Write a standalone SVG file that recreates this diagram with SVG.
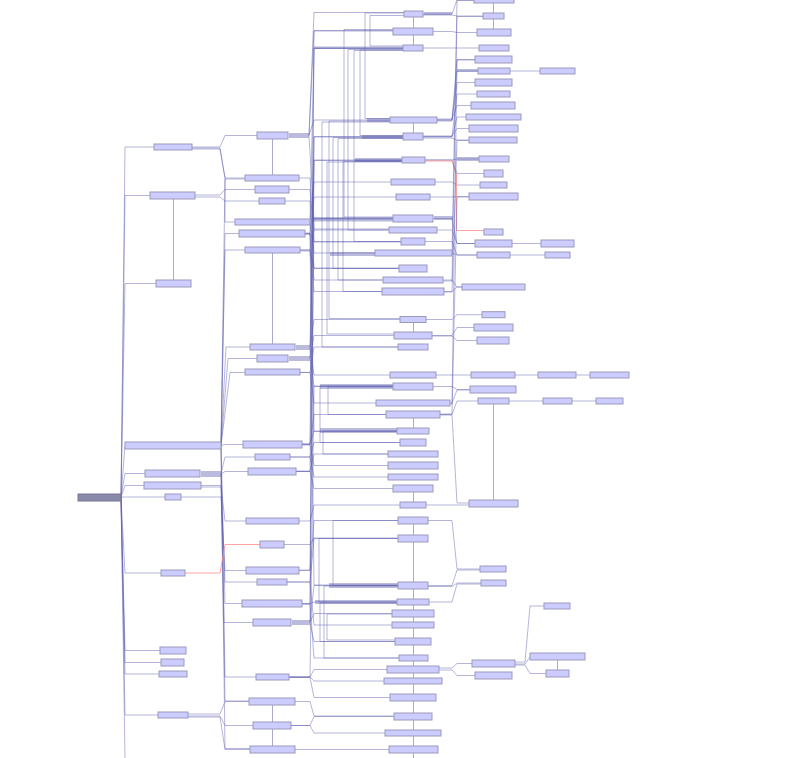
<svg xmlns="http://www.w3.org/2000/svg" width="785" height="758" viewBox="0 0 785 758">
<style>
.n rect{fill:#ccccff;stroke:#9a9abb;stroke-width:1}
.root rect{fill:#8a8aaa;stroke:#77779a;stroke-width:1}
.e path{fill:none;stroke:#5a5ab0;stroke-opacity:.45;stroke-width:1}
.e path.r{stroke:#ff8c8c;stroke-opacity:.8}
.v line{stroke:#aaaacc;stroke-width:1}
.b rect{fill:#bbbbdd}
</style>
<rect width="785" height="758" fill="#ffffff"/>
<g class="b">
<rect x="201" y="471" width="20" height="6"/><rect x="289" y="133" width="20" height="5"/>
<rect x="296" y="345" width="14" height="5"/><rect x="289" y="356" width="21" height="5"/>
<rect x="292" y="620" width="18" height="5"/><rect x="424" y="12" width="28" height="3"/>
<rect x="314" y="46.5" width="89" height="2.5"/><rect x="367" y="118" width="23" height="4"/>
<rect x="362" y="135" width="41" height="4"/><rect x="355" y="158" width="47" height="4"/>
<rect x="313" y="217" width="80" height="4.5"/><rect x="434" y="216" width="19" height="4"/>
<rect x="330" y="252" width="45" height="4"/><rect x="320" y="384" width="73" height="5"/>
<rect x="320" y="428" width="77" height="5"/><rect x="329" y="583" width="69" height="5"/>
<rect x="315" y="600" width="82" height="4"/><rect x="457" y="69" width="21" height="3"/>
<rect x="457" y="157" width="22" height="4"/>
</g>
<g class="v">
<line x1="173.5" y1="199" x2="173.5" y2="280"/>
<line x1="272.5" y1="139" x2="272.5" y2="175"/><line x1="272.5" y1="253" x2="272.5" y2="344"/><line x1="272.5" y1="705" x2="272.5" y2="746"/>
<line x1="413.5" y1="17" x2="413.5" y2="45"/><line x1="413.5" y1="123" x2="413.5" y2="133"/><line x1="413.5" y1="323" x2="413.5" y2="332"/>
<line x1="413.5" y1="418" x2="413.5" y2="428"/><line x1="413.5" y1="492" x2="413.5" y2="502"/><line x1="413.5" y1="524" x2="413.5" y2="758"/>
<line x1="493.5" y1="3" x2="493.5" y2="29"/><line x1="493.5" y1="404" x2="493.5" y2="500"/>
<line x1="557.5" y1="660" x2="557.5" y2="670"/>
</g>
<g class="e" id="connectors">
<path d="M121,497 L125,147 L154,147"/><path d="M121,497 L125,195.5 L150,195.5"/><path d="M121,497 L125,283.5 L156,283.5"/>
<path d="M121,497 L125,445.5"/><path d="M121,497 L125,473.5 L145,473.5"/><path d="M121,497 L125,485.5 L144,485.5"/>
<path d="M121,497 L165,497"/><path d="M121,497 L125,573 L161,573"/><path d="M121,497 L125,650.5 L160,650.5"/>
<path d="M121,497 L125,662.5 L161,662.5"/><path d="M121,497 L125,674 L159,674"/><path d="M121,497 L125,715 L158,715"/>
<path d="M121,497 L125,758"/>
<path d="M192,147 L220,147 L225,135.5 L257,135.5"/><path d="M192,149 L220,149 L225,178 L245,178"/>
<path d="M192,148 L220,148 L225,178 L225,222 L235,222"/>
<path d="M195,195 L220,195 L225,189.5 L255,189.5"/><path d="M195,197 L220,197 L225,201 L259,201"/>
<path d="M221,445.5 L225,233.5 L239,233.5"/><path d="M221,445.5 L225,250 L245,250"/>
<path d="M221,445.5 L226,347 L250,347"/><path d="M221,445.5 L228,358.5 L257,358.5"/>
<path d="M221,445.5 L230,372.5 L245,372.5"/><path d="M221,445.5 L225,444.5 L243,444.5"/>
<path d="M221,473.5 L225,457 L255,457"/><path d="M221,474 L225,471.5 L248,471.5"/>
<path d="M201,485.5 L221,485.5 L225,521 L246,521"/><path d="M181,497 L221,497 L225,570.5 L246,570.5"/>
<path d="M201,487 L221,487 L225,582 L257,582"/><path d="M221,446 L225,603.5 L242,603.5"/>
<path d="M221,474 L224,622.5 L253,622.5"/><path d="M221,446 L225,677 L256,677"/>
<path d="M221,446 L225,179 L245,179"/><path d="M221,446 L225,748.5 L250,748.5"/>
<path d="M221,474 L225,701 L249,701"/>
<path class="r" d="M185,573 L220,573 L225,544.5 L260,544.5"/>
<path d="M188,714 L220,714 L225,701.5 L249,701.5"/><path d="M188,716 L220,716 L225,725.5 L253,725.5"/>
<path d="M188,717 L220,717 L225,749.5 L250,749.5"/>
<path d="M309,135.5 L314,12.5 L404,12.5"/><path d="M309,136 L314,30.5 L393,30.5"/>
<path d="M310,222 L314,48 L403,48"/><path d="M309,135 L314,120 L390,120"/>
<path d="M310,347 L314,136.5 L403,136.5"/><path d="M310,358.5 L314,160 L402,160"/>
<path d="M310,222 L314,182 L391,182"/><path d="M305,233.5 L310,233.5 L314,197 L396,197"/>
<path d="M309,136.5 L314,218.5 L393,218.5"/><path d="M300,250 L310,250 L314,230 L389,230"/>
<path d="M305,234 L310,234 L314,241.5 L401,241.5"/><path d="M310,222 L314,253 L375,253"/>
<path d="M300,250 L310,250 L314,268.5 L399,268.5"/><path d="M305,233 L310,233 L314,280 L383,280"/>
<path d="M300,251 L310,251 L314,291.5 L382,291.5"/><path d="M310,347 L314,319.5 L400,319.5"/>
<path d="M310,358.5 L314,335.5 L394,335.5"/><path d="M300,372.5 L310,372.5 L314,347 L398,347"/>
<path d="M310,347.5 L314,375 L390,375"/><path d="M310,359 L314,386.5 L393,386.5"/>
<path d="M300,372.5 L310,372.5 L314,403 L376,403"/><path d="M302,444.5 L310,444.5 L314,414.5 L386,414.5"/>
<path d="M302,444 L310,444 L314,431 L397,431"/><path d="M290,457 L310,457 L314,442.5 L400,442.5"/>
<path d="M296,471.5 L310,471.5 L314,454 L388,454"/><path d="M302,445 L310,445 L314,465.5 L388,465.5"/>
<path d="M290,457 L310,457 L314,477 L388,477"/><path d="M296,471.5 L310,471.5 L314,488.5 L393,488.5"/>
<path d="M299,521 L310,521 L314,505 L400,505"/><path d="M299,570.5 L310,570.5 L314,520.5 L398,520.5"/>
<path d="M287,582 L310,582 L314,538.5 L398,538.5"/><path d="M310,622.5 L314,585.5 L398,585.5"/>
<path d="M302,603.5 L310,603.5 L314,602 L397,602"/><path d="M310,622.5 L314,613.5 L392,613.5"/>
<path d="M287,582 L310,582 L314,625 L392,625"/><path d="M310,623 L314,641.5 L395,641.5"/>
<path d="M302,604 L310,604 L314,658 L399,658"/><path d="M289,677 L310,677 L314,669.5 L387,669.5"/>
<path d="M289,677 L310,677 L314,681 L384,681"/><path d="M289,677.5 L310,677.5 L314,697.5 L390,697.5"/>
<path d="M291,725.5 L310,725.5 L314,716.5 L394,716.5"/><path d="M291,725.5 L310,725.5 L314,733 L385,733"/>
<path d="M295,749.5 L389,749.5"/>
<path d="M299,178 L310,178 L314,229 L389,229"/><path d="M289,189.5 L310,189.5 L314,242 L401,242"/>
<path d="M285,201 L310,201 L314,268 L399,268"/><path d="M284,544.5 L310,544.5 L314,538 L398,538"/>
<path d="M295,701.5 L310,701.5 L314,716 L394,716"/>
<path d="M302,444 L310,444 L314,48.5 L403,48.5"/><path d="M296,471 L310,471 L314,31 L393,31"/>
<path d="M310,622 L314,137 L403,137"/><path d="M299,570 L310,570 L314,160.5 L402,160.5"/>
<path d="M302,604 L310,604 L314,219 L393,219"/><path d="M289,677 L310,677 L314,386 L393,386"/>
<path d="M305,234 L310,234 L314,585 L398,585"/><path d="M310,222 L314,431.5 L397,431.5"/>
<path d="M404,13 L365,13 L365,118.5 L390,118.5"/><path d="M404,15.5 L370,15.5 L370,46 L403,46"/>
<path d="M393,29.5 L344,29.5 L344,217 L393,217"/><path d="M403,50 L360,50 L360,135.5 L403,135.5"/>
<path d="M403,50.5 L354,50.5 L354,160 L402,160"/><path d="M403,49.5 L348,49.5 L348,230 L389,230"/>
<path d="M402,161 L354,161 L354,241.5 L401,241.5"/><path d="M390,121 L329,121 L329,318.5 L400,318.5"/>
<path d="M403,137.5 L333,137.5 L333,268.5 L399,268.5"/><path d="M403,138.5 L338,138.5 L338,280 L383,280"/>
<path d="M402,161.5 L343,161.5 L343,291.5 L382,291.5"/><path d="M402,162 L327,162 L327,334 L394,334"/>
<path d="M390,122 L322,122 L322,347 L398,347"/><path d="M393,386 L320,386 L320,442.5 L400,442.5"/>
<path d="M393,387 L328,387 L328,414.5 L386,414.5"/><path d="M397,431 L323,431 L323,454 L388,454"/>
<path d="M398,520.5 L333,520.5 L333,585.5 L398,585.5"/><path d="M398,538.5 L319,538.5 L319,602 L397,602"/>
<path d="M397,603 L320,603 L320,641.5 L395,641.5"/><path d="M398,586 L324,586 L324,658 L399,658"/>
<path d="M392,614 L327,614 L327,640 L395,640"/>
<path d="M423,14 L452,14 L457,0 L474,0"/><path d="M423,15 L452,15 L457,16 L483,16"/>
<path d="M433,31.5 L452,31.5 L457,32.5 L477,32.5"/><path d="M423,48 L452,48 L457,48 L479,48"/>
<path d="M437,120 L452,120 L457,59.5 L475,59.5"/><path d="M437,120 L452,120 L457,71 L478,71"/>
<path d="M437,121 L452,121 L457,82.5 L475,82.5"/><path d="M423,136.5 L452,136.5 L457,94 L477,94"/>
<path d="M437,119 L452,119 L457,105.5 L471,105.5"/><path d="M423,137 L452,137 L457,117 L466,117"/>
<path d="M423,136 L452,136 L457,128.5 L469,128.5"/><path d="M423,138 L452,138 L457,140 L469,140"/>
<path d="M425,160 L452,160 L457,159 L479,159"/><path d="M425,160 L452,160 L457,173.5 L484,173.5"/>
<path d="M435,182 L452,182 L457,185 L480,185"/><path d="M430,197 L452,197 L457,196.5 L469,196.5"/>
<path class="r" d="M425,161 L452,161 L456.5,175 L456.5,230.5 L484,230.5"/>
<path d="M433,218.5 L452,218.5 L457,243.5 L475,243.5"/><path d="M437,230 L452,230 L457,243.5 L475,243.5"/>
<path d="M452,253 L457,255 L477,255"/><path d="M425,241.5 L452,241.5 L457,255 L477,255"/>
<path d="M443,280 L452,280 L457,287 L462,287"/><path d="M444,291.5 L452,291.5 L457,287 L462,287"/>
<path d="M426,319.5 L452,319.5 L457,314.7 L482,314.7"/><path d="M432,335.5 L452,335.5 L457,327.5 L474,327.5"/>
<path d="M432,336 L452,336 L457,340.5 L477,340.5"/><path d="M436,375 L471,375"/>
<path d="M433,386.5 L452,386.5 L457,389.5 L470,389.5"/><path d="M450,403 L452,403 L457,390 L470,390"/>
<path d="M440,414.5 L452,414.5 L457,401 L478,401"/><path d="M426,505 L469,505"/>
<path d="M440,415 L452,415 L457,503 L469,503"/><path d="M428,520.5 L452,520.5 L457,569 L480,569"/>
<path d="M428,585.5 L452,585.5 L457,570 L480,570"/><path d="M428,586.5 L452,586.5 L457,583 L481,583"/>
<path d="M429,602 L452,602 L457,584 L481,584"/><path d="M439,668 L452,668 L457,663.5 L472,663.5"/>
<path d="M439,670 L452,670 L457,675.5 L475,675.5"/>
<path d="M452,254 L457,0.5 L474,0.5"/><path d="M450,404 L452,404 L457,60 L475,60"/>
<path d="M444,292 L452,292 L457,140.5 L469,140.5"/><path d="M440,414 L452,414 L457,197 L469,197"/>
<path d="M443,281 L452,281 L457,16.5 L483,16.5"/>
<path d="M510,71 L540,71"/><path d="M512,243.5 L541,243.5"/><path d="M510,255 L545,255"/>
<path d="M515,375 L538,375"/><path d="M576,375 L590,375"/><path d="M509,401 L543,401"/><path d="M572,401 L596,401"/>
<path d="M515,662 L525,662 L530,606 L544,606"/><path d="M515,664 L525,664 L530,657"/>
<path d="M515,665 L525,665 L530,673.5 L546,673.5"/>
</g>
<g id="root" class="root"><rect x="78" y="494" width="43" height="7"/></g>
<g class="n">
<g id="A1"><rect x="154" y="144" width="38" height="6"/></g>
<g id="A2"><rect x="150" y="192" width="45" height="7"/></g>
<g id="A3"><rect x="156" y="280" width="35" height="7"/></g>
<g id="A4"><rect x="125" y="442" width="96" height="7"/></g>
<g id="A5"><rect x="145" y="470" width="55" height="7"/></g>
<g id="A6"><rect x="144" y="482" width="57" height="7"/></g>
<g id="A7"><rect x="165" y="494" width="16" height="6"/></g>
<g id="A8"><rect x="161" y="570" width="24" height="6"/></g>
<g id="A9"><rect x="160" y="647" width="26" height="7"/></g>
<g id="A10"><rect x="161" y="659" width="23" height="7"/></g>
<g id="A11"><rect x="159" y="671" width="28" height="6"/></g>
<g id="A12"><rect x="158" y="712" width="30" height="6"/></g>
<g id="B1"><rect x="257" y="132" width="31" height="7"/></g>
<g id="B2"><rect x="245" y="175" width="54" height="6"/></g>
<g id="B3"><rect x="255" y="186" width="34" height="7"/></g>
<g id="B4"><rect x="259" y="198" width="26" height="6"/></g>
<g id="B5"><rect x="235" y="219" width="75" height="6"/></g>
<g id="B6"><rect x="239" y="230" width="66" height="7"/></g>
<g id="B7"><rect x="245" y="247" width="55" height="6"/></g>
<g id="B8"><rect x="250" y="344" width="45" height="6"/></g>
<g id="B9"><rect x="257" y="355" width="31" height="7"/></g>
<g id="B10"><rect x="245" y="369" width="55" height="6"/></g>
<g id="B11"><rect x="243" y="441" width="59" height="7"/></g>
<g id="B12"><rect x="255" y="454" width="35" height="6"/></g>
<g id="B13"><rect x="248" y="468" width="48" height="7"/></g>
<g id="B14"><rect x="246" y="518" width="53" height="6"/></g>
<g id="B15"><rect x="260" y="541" width="24" height="7"/></g>
<g id="B16"><rect x="246" y="567" width="53" height="7"/></g>
<g id="B17"><rect x="257" y="579" width="30" height="6"/></g>
<g id="B18"><rect x="242" y="600" width="60" height="7"/></g>
<g id="B19"><rect x="253" y="619" width="38" height="7"/></g>
<g id="B20"><rect x="256" y="674" width="33" height="6"/></g>
<g id="B21"><rect x="249" y="698" width="46" height="7"/></g>
<g id="B22"><rect x="253" y="722" width="38" height="7"/></g>
<g id="B23"><rect x="250" y="746" width="45" height="7"/></g>
<g id="C1"><rect x="404" y="11" width="19" height="6"/></g>
<g id="C2"><rect x="393" y="28" width="40" height="7"/></g>
<g id="C3"><rect x="403" y="45" width="20" height="6"/></g>
<g id="C4"><rect x="390" y="117" width="47" height="6"/></g>
<g id="C5"><rect x="403" y="133" width="20" height="7"/></g>
<g id="C6"><rect x="402" y="157" width="23" height="6"/></g>
<g id="C7"><rect x="391" y="179" width="44" height="6"/></g>
<g id="C8"><rect x="396" y="194" width="34" height="6"/></g>
<g id="C9"><rect x="393" y="215" width="40" height="7"/></g>
<g id="C10"><rect x="389" y="227" width="48" height="6"/></g>
<g id="C11"><rect x="401" y="238" width="24" height="7"/></g>
<g id="C12"><rect x="375" y="250" width="77" height="6"/></g>
<g id="C13"><rect x="399" y="265" width="28" height="7"/></g>
<g id="C14"><rect x="383" y="277" width="60" height="6"/></g>
<g id="C15"><rect x="382" y="288" width="62" height="7"/></g>
<g id="C16"><rect x="400" y="316.5" width="26" height="6"/></g>
<g id="C17"><rect x="394" y="332" width="38" height="7"/></g>
<g id="C18"><rect x="398" y="344" width="30" height="6"/></g>
<g id="C19"><rect x="390" y="372" width="46" height="6"/></g>
<g id="C20"><rect x="393" y="383" width="40" height="7"/></g>
<g id="C21"><rect x="376" y="400" width="74" height="6"/></g>
<g id="C22"><rect x="386" y="411" width="54" height="7"/></g>
<g id="C23"><rect x="397" y="428" width="32" height="6"/></g>
<g id="C24"><rect x="400" y="439" width="26" height="7"/></g>
<g id="C25"><rect x="388" y="451" width="50" height="6"/></g>
<g id="C26"><rect x="388" y="462" width="50" height="7"/></g>
<g id="C27"><rect x="388" y="474" width="50" height="6"/></g>
<g id="C28"><rect x="393" y="485" width="40" height="7"/></g>
<g id="C29"><rect x="400" y="502" width="26" height="6"/></g>
<g id="C30"><rect x="398" y="517" width="30" height="7"/></g>
<g id="C31"><rect x="398" y="535" width="30" height="7"/></g>
<g id="C32"><rect x="398" y="582" width="30" height="7"/></g>
<g id="C33"><rect x="397" y="599" width="32" height="6"/></g>
<g id="C34"><rect x="392" y="610" width="42" height="7"/></g>
<g id="C35"><rect x="392" y="622" width="42" height="6"/></g>
<g id="C36"><rect x="395" y="638" width="36" height="7"/></g>
<g id="C37"><rect x="399" y="655" width="29" height="6"/></g>
<g id="C38"><rect x="387" y="666" width="52" height="7"/></g>
<g id="C39"><rect x="384" y="678" width="58" height="6"/></g>
<g id="C40"><rect x="390" y="694" width="46" height="7"/></g>
<g id="C41"><rect x="394" y="713" width="38" height="7"/></g>
<g id="C42"><rect x="385" y="730" width="56" height="6"/></g>
<g id="C43"><rect x="389" y="746" width="49" height="7"/></g>
<g id="D1"><rect x="474" y="-4" width="40" height="7"/></g>
<g id="D2"><rect x="483" y="13" width="21" height="6"/></g>
<g id="D3"><rect x="477" y="29" width="34" height="7"/></g>
<g id="D4"><rect x="479" y="45" width="30" height="6"/></g>
<g id="D5"><rect x="475" y="56" width="37" height="7"/></g>
<g id="D6"><rect x="478" y="68" width="32" height="6"/></g>
<g id="D7"><rect x="475" y="79" width="37" height="7"/></g>
<g id="D8"><rect x="477" y="91" width="33" height="6"/></g>
<g id="D9"><rect x="471" y="102" width="44" height="7"/></g>
<g id="D10"><rect x="466" y="114" width="55" height="6"/></g>
<g id="D11"><rect x="469" y="125" width="49" height="7"/></g>
<g id="D12"><rect x="469" y="137" width="48" height="6"/></g>
<g id="D13"><rect x="479" y="156" width="30" height="6"/></g>
<g id="D14"><rect x="484" y="170" width="19" height="7"/></g>
<g id="D15"><rect x="480" y="182" width="27" height="6"/></g>
<g id="D16"><rect x="469" y="193" width="49" height="7"/></g>
<g id="D17"><rect x="484" y="229" width="19" height="6"/></g>
<g id="D18"><rect x="475" y="240" width="37" height="7"/></g>
<g id="D19"><rect x="477" y="252" width="33" height="6"/></g>
<g id="D20"><rect x="462" y="284" width="63" height="6"/></g>
<g id="D21"><rect x="482" y="311.7" width="23" height="6"/></g>
<g id="D22"><rect x="474" y="324" width="39" height="7"/></g>
<g id="D23"><rect x="477" y="337" width="32" height="7"/></g>
<g id="D24"><rect x="471" y="372" width="44" height="6"/></g>
<g id="D25"><rect x="470" y="386" width="46" height="7"/></g>
<g id="D26"><rect x="478" y="398" width="31" height="6"/></g>
<g id="D27"><rect x="469" y="500" width="49" height="7"/></g>
<g id="D28"><rect x="480" y="566" width="26" height="6"/></g>
<g id="D29"><rect x="481" y="580" width="25" height="6"/></g>
<g id="D30"><rect x="472" y="660" width="43" height="7"/></g>
<g id="D31"><rect x="475" y="672" width="37" height="7"/></g>
<g id="E1"><rect x="540" y="68" width="35" height="6"/></g>
<g id="E2"><rect x="541" y="240" width="33" height="7"/></g>
<g id="E3"><rect x="545" y="252" width="25" height="6"/></g>
<g id="E4"><rect x="538" y="372" width="38" height="6"/></g>
<g id="E5"><rect x="543" y="398" width="29" height="6"/></g>
<g id="E6"><rect x="544" y="603" width="26" height="6"/></g>
<g id="E7"><rect x="530" y="653" width="55" height="7"/></g>
<g id="E8"><rect x="546" y="670" width="23" height="7"/></g>
<g id="F1"><rect x="590" y="372" width="39" height="6"/></g>
<g id="F2"><rect x="596" y="398" width="27" height="6"/></g>
</g>
</svg>
